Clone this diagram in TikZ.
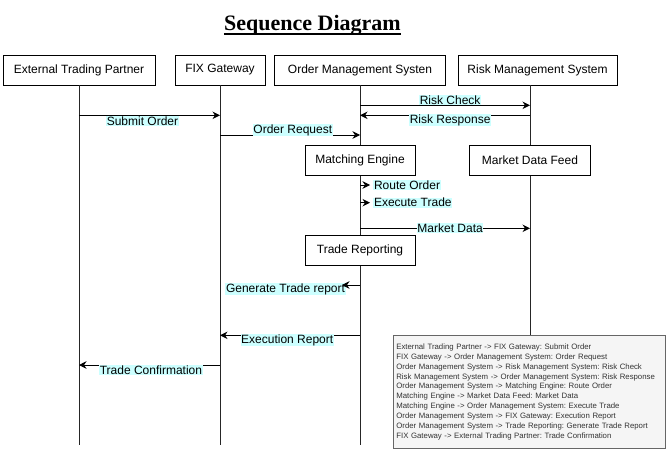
\documentclass[tikz,border=0pt]{standalone}
\usepackage{fontspec}
\setmainfont{Liberation Sans}
\newfontfamily\titlefont{Liberation Serif}
\usetikzlibrary{arrows.meta}
\definecolor{lblcyan}{HTML}{CCFFFF}
\definecolor{notefill}{HTML}{F5F5F5}
\definecolor{noteedge}{HTML}{666666}
\definecolor{notetext}{HTML}{333333}

\begin{document}
\frenchspacing
\begin{tikzpicture}[x=1pt, y=-1pt, line width=0.9pt,
	every node/.style={font=\fontsize{12}{14}\selectfont},
	actor/.style={draw, fill=white, minimum height=30pt, inner sep=0pt},
	life/.style={black!85},
	msg/.style={-{Stealth[length=7.5pt, width=7.5pt]}},
	lbl/.style={fill=lblcyan, inner sep=0.6pt}]
	\useasboundingbox (0,0) rectangle (671,452);

	\node[inner sep=0pt, anchor=base, font={\titlefont\bfseries\fontsize{22}{26}\selectfont}] (title) at (312.5,30.5) {Sequence Diagram};
	\draw[line width=1.2pt] ([yshift=-3.5pt]title.base west) -- ([yshift=-3.5pt]title.base east);

	\node[actor, minimum width=152pt] (etp) at (79,70) {External Trading Partner};
	\node[actor, minimum width=90pt] (fix) at (220,70) {FIX Gateway};
	\node[actor, minimum width=171pt] (oms) at (360,70) {Order Management Systen};
	\node[actor, minimum width=159pt] (rms) at (537.5,70) {Risk Management System};

	\node[actor, minimum width=110pt] (me) at (360,160.5) {Matching Engine};
	\node[actor, minimum width=121pt] (mdf) at (530,160.5) {Market Data Feed};
	\node[actor, minimum width=110pt] (tr) at (360,250.5) {Trade Reporting};

	\node[draw=noteedge, line width=0.7pt, fill=notefill, text=notetext, anchor=north west, text width=266pt, minimum height=113pt, inner xsep=3pt, align=left, font=\fontsize{7.8}{9.85}\selectfont] (note) at (393,335) {External Trading Partner -> FIX Gateway: Submit Order\\
		FIX Gateway -> Order Management System: Order Request\\
		Order Management System -> Risk Management System: Risk Check\\
		Risk Management System -> Order Management System: Risk Response\\
		Order Management System -> Matching Engine: Route Order\\
		Matching Engine -> Market Data Feed: Market Data\\
		Matching Engine -> Order Management System: Execute Trade\\
		Order Management System -> FIX Gateway: Execution Report\\
		Order Management System -> Trade Reporting: Generate Trade Report\\
		FIX Gateway -> External Trading Partner: Trade Confirmation};

	\coordinate (bot) at (0,445);
	\draw[life] (etp.south) -- (etp |- bot);
	\draw[life] (fix.south) -- (fix |- bot);
	\draw[life] (oms.south) -- (me.north);
	\draw[life] (me.south) -- (tr.north);
	\draw[life] (tr.south) -- (tr |- bot);
	\draw[life] (mdf |- rms.south) -- (mdf.north);
	\draw[life] (mdf.south) -- (mdf |- note.north);

	\coordinate (m1) at (0,115.3);
	\coordinate (m2) at (0,135);
	\coordinate (m3) at (0,105.3);
	\coordinate (m4) at (0,115.3);
	\coordinate (m7) at (0,228.3);
	\coordinate (m8) at (0,285);
	\coordinate (m9) at (0,335.3);
	\coordinate (m10) at (0,365);

	\draw[msg] (etp |- m1) -- (fix |- m1) node[lbl, pos=.45, yshift=-5.5pt] {Submit Order};
	\draw[msg] (fix |- m2) -- (oms |- m2) node[lbl, pos=.52, yshift=5pt] {Order Request};
	\draw[msg] (oms |- m3) -- (mdf |- m3) node[lbl, pos=.53, yshift=5pt] {Risk Check};
	\draw[msg] (mdf |- m4) -- (oms |- m4) node[lbl, pos=.47, yshift=-4.7pt] {Risk Response};

	\node[lbl, anchor=west] (route) at (373,185) {Route Order};
	\draw[msg, shorten >=3pt] (me |- route) -- (route.west);
	\node[lbl, anchor=west] (exec) at (373,202.7) {Execute Trade};
	\draw[msg, shorten >=3pt] (me |- exec) -- (exec.west);

	\draw[msg] (me |- m7) -- (mdf |- m7) node[lbl, pos=.53] {Market Data};

	\node[lbl, anchor=east] (gtr) at (346,289.3) {Generate Trade report};
	\draw[msg, shorten >=-4pt] (tr |- m8) -- (gtr.east |- m8);

	\draw[msg] (tr |- m9) -- (fix |- m9) node[lbl, pos=.52, yshift=-4.7pt] {Execution Report};
	\draw[msg] (fix |- m10) -- (etp |- m10) node[lbl, pos=.49, yshift=-5pt] {Trade Confirmation};
\end{tikzpicture}
\end{document}
